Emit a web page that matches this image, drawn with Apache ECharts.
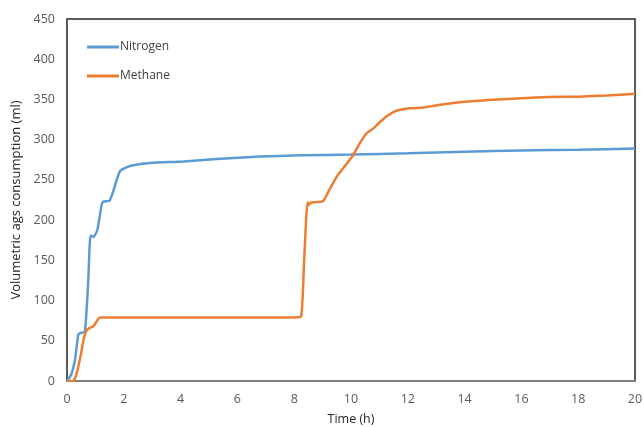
<!DOCTYPE html>
<html><head><meta charset="utf-8">
<script src="https://cdn.jsdelivr.net/npm/echarts@6/dist/echarts.min.js"></script>
<style>html,body{margin:0;padding:0;background:#fff}#c{width:644px;height:427px}</style>
</head><body><div id="c"></div>
<script>
const xTicks = [0,2,4,6,8,10,12,14,16,18,20];
const yTicks = [0,50,100,150,200,250,300,350,400,450];
const seriesNames = ['Nitrogen','Methane'];
const nitrogenT = [0,0.15,0.28,0.4,0.5,0.63,0.75,0.83,0.93,1.07,1.22,1.28,1.49,1.63,1.75,1.87,2.05,2.28,2.92,4.1,5.27,6.8,8.2,10,12,14,16,18,20];
const nitrogenV = [0,8,26,58,60,61,126,181,179,188,219,223,224,236,250,261,265,268,271,273,276,279,280.5,281.5,283,285,286.5,287.5,289];
const methaneT = [0,0.22,0.3,0.4,0.5,0.58,0.69,0.8,0.93,1.04,1.16,2,4,6,8,8.24,8.35,8.47,8.52,8.6,8.97,9.05,9.2,9.5,9.8,10.08,10.3,10.55,10.79,11.02,11.3,11.6,12.08,12.55,13.07,14,15,16,17,18,19,20];
const methaneV = [0,0,5,18,35,51,63,66,68,74,79,79,79,79,79,80,150,222,219,222,223,225,235,254,268,281,295,308,314,322,330,336,339,340,343,347,349.5,351.5,353,353.5,355,357];

const chart = echarts.init(document.getElementById('c'), null, {renderer:'canvas'});
const font = 'Open Sans';
chart.setOption({
  animation:false,
  grid:{left:67,right:9,top:19,bottom:46,show:true,borderColor:'#262626',borderWidth:1.5,backgroundColor:'#fff',containLabel:false,outerBoundsMode:'none'},
  legend:{
    orient:'vertical',left:82,top:36,itemGap:17,itemWidth:32,itemHeight:3,
    icon:'rect',
    textStyle:{fontFamily:font,fontSize:12,color:'#404040',padding:[0,0,0,-4]},
    data:seriesNames
  },
  xAxis:{
    type:'value',min:0,max:20,interval:2,
    name:'Time (h)',nameLocation:'middle',nameGap:32,
    nameTextStyle:{fontFamily:font,fontSize:12.5,color:'#262626'},
    axisLine:{show:true,onZero:false,lineStyle:{color:'#7f7f7f',width:2}},
    axisTick:{show:false},
    splitLine:{show:false},
    axisLabel:{fontFamily:font,fontSize:12.5,color:'#595959',margin:12,formatter:v=>xTicks.includes(v)?String(v):''}
  },
  yAxis:{
    type:'value',min:0,max:450,interval:50,
    name:'Volumetric ags consumption (ml)',nameLocation:'middle',nameGap:37,
    nameTextStyle:{fontFamily:font,fontSize:13,color:'#262626'},
    axisLine:{show:true,lineStyle:{color:'#595959',width:1.5}},
    axisTick:{show:false},
    splitLine:{show:false},
    axisLabel:{fontFamily:font,fontSize:12.5,color:'#595959',margin:12,formatter:v=>yTicks.includes(v)?String(v):''}
  },
  series:[
    {name:seriesNames[0],type:'line',showSymbol:false,smooth:0.2,
     lineStyle:{color:'#5B9BD5',width:2.5},itemStyle:{color:'#5B9BD5'},
     data:nitrogenT.map((t,i)=>[t,nitrogenV[i]])},
    {name:seriesNames[1],type:'line',showSymbol:false,smooth:0.2,
     lineStyle:{color:'#ED7D31',width:2.5},itemStyle:{color:'#ED7D31'},
     data:methaneT.map((t,i)=>[t,methaneV[i]])}
  ]
});
</script></body></html>
